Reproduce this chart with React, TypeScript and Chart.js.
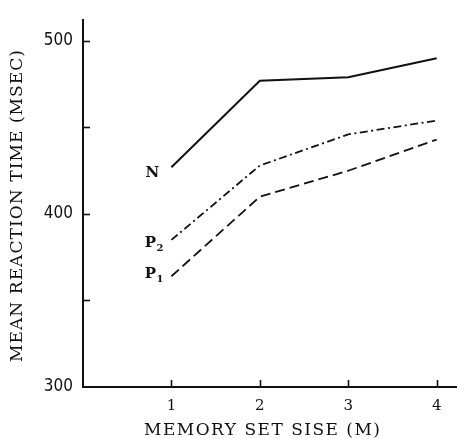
import React, { useEffect, useRef } from "react";
import { Chart, registerables } from "chart.js";

Chart.register(...registerables);

// ---- data ----
const memorySetSizes = [1, 2, 3, 4];
const seriesN = [427, 477, 479, 490];
const seriesP2 = [385, 428, 446, 454];
const seriesP1 = [364, 410, 425, 443];
const seriesNames = ["N", "P2", "P1"];
const yTickValues = [300, 350, 400, 450, 500];
const yLabeledTicks = [300, 400, 500];
const xTickValues = [1, 2, 3, 4];
const xTitle = "MEMORY SET SISE (M)";
const yTitle = "MEAN REACTION TIME (MSEC)";

const INK = "#111111";
const SERIF = "'DejaVu Serif', 'Liberation Serif', serif";
const NARROW = "'Liberation Sans Narrow', 'DejaVu Sans Condensed', 'Liberation Sans', sans-serif";

function toPoints(values: number[]) {
  return memorySetSizes.map((x, i) => ({ x, y: values[i] }));
}

function drawSpaced(ctx: CanvasRenderingContext2D, text: string, targetWidth: number) {
  (ctx as any).letterSpacing = "0px";
  const w = ctx.measureText(text).width;
  const sp = (targetWidth - w) / (text.length - 1);
  (ctx as any).letterSpacing = sp + "px";
  ctx.fillText(text, -targetWidth / 2, 0);
}

const decorPlugin = {
  id: "decor",
  afterDraw(chart: any) {
    const ctx: CanvasRenderingContext2D = chart.ctx;
    const xs = chart.scales.x;
    const ys = chart.scales.y;
    const area = chart.chartArea;
    ctx.save();
    ctx.strokeStyle = INK;
    ctx.lineWidth = 1.6;
    ctx.setLineDash([]);
    // inward tick marks
    yTickValues.forEach((v) => {
      if (v === 300) return;
      const py = Math.round(ys.getPixelForValue(v)) + 0.5;
      ctx.beginPath();
      ctx.moveTo(area.left, py);
      ctx.lineTo(area.left + 7, py);
      ctx.stroke();
    });
    xTickValues.forEach((v) => {
      const px = Math.round(xs.getPixelForValue(v)) + 0.5;
      ctx.beginPath();
      ctx.moveTo(px, area.bottom);
      ctx.lineTo(px, area.bottom - 7);
      ctx.stroke();
    });

    ctx.fillStyle = INK;
    // x title
    ctx.save();
    ctx.font = `17px ${SERIF}`;
    ctx.textBaseline = "alphabetic";
    ctx.textAlign = "left";
    ctx.translate(262, 435);
    drawSpaced(ctx, xTitle, 236);
    ctx.restore();
    // y title
    ctx.save();
    ctx.font = `17px ${SERIF}`;
    ctx.textBaseline = "alphabetic";
    ctx.textAlign = "left";
    ctx.translate(22, 206);
    ctx.rotate(-Math.PI / 2);
    drawSpaced(ctx, yTitle, 312);
    ctx.restore();

    // series labels next to first point: [dx of letter centre, baseline dy]
    const place = [
      [-19, 9.5],
      [-21, 7],
      [-21, 1.5],
    ];
    chart.data.datasets.forEach((ds: any, i: number) => {
      const p = ds.data[0];
      const px = xs.getPixelForValue(p.x) + place[i][0];
      const py = ys.getPixelForValue(p.y) + place[i][1];
      const name = seriesNames[i];
      ctx.textBaseline = "alphabetic";
      ctx.textAlign = "center";
      ctx.font = `bold 15px ${SERIF}`;
      ctx.fillText(name[0], px, py);
      if (name.length > 1) {
        ctx.font = `bold 10px ${SERIF}`;
        ctx.textAlign = "left";
        ctx.fillText(name.slice(1), px + 6, py + 4);
      }
    });
    ctx.restore();
  },
};

export default function App() {
  const ref = useRef<HTMLCanvasElement>(null);
  useEffect(() => {
    if (!ref.current) return;
    const common = {
      borderColor: INK,
      pointRadius: 0,
      fill: false,
      tension: 0,
    };
    const chart = new Chart(ref.current, {
      type: "line",
      data: {
        datasets: [
          { ...common, label: seriesNames[0], data: toPoints(seriesN), borderWidth: 2 },
          { ...common, label: seriesNames[1], data: toPoints(seriesP2), borderWidth: 1.8, borderDash: [8, 3.5, 2, 3.5] },
          { ...common, label: seriesNames[2], data: toPoints(seriesP1), borderWidth: 1.8, borderDash: [10, 5] },
        ],
      },
      options: {
        animation: false,
        responsive: false,
        events: [],
        layout: { padding: { top: 11, right: 0, left: 0, bottom: 0 } },
        plugins: { legend: { display: false }, tooltip: { enabled: false } },
        scales: {
          x: {
            type: "linear",
            min: 0,
            max: 4.23,
            afterBuildTicks: (s: any) => {
              s.ticks = xTickValues.map((v) => ({ value: v }));
            },
            afterFit: (s: any) => {
              s.height = 52;
            },
            grid: { display: false, drawTicks: false },
            border: { display: true, color: INK, width: 2 },
            ticks: {
              padding: 10,
              color: INK,
              font: { family: SERIF, size: 15 },
              maxRotation: 0,
              autoSkip: false,
            },
          },
          y: {
            type: "linear",
            min: 300,
            max: 512,
            afterBuildTicks: (s: any) => {
              s.ticks = yTickValues.map((v) => ({ value: v }));
            },
            afterFit: (s: any) => {
              s.width = 83;
            },
            grid: { display: false, drawTicks: false },
            border: { display: true, color: INK, width: 2 },
            ticks: {
              padding: 10,
              color: INK,
              autoSkip: false,
              font: { family: NARROW, size: 17 },
              callback: (v: any) => (yLabeledTicks.includes(Number(v)) ? String(v) : ""),
            },
          },
        },
      },
      plugins: [decorPlugin],
    } as any);
    return () => chart.destroy();
  }, []);
  return (
    <div style={{ position: "fixed", left: 0, top: 0, width: 457, height: 439, background: "#fff" }}>
      <canvas ref={ref} width={457} height={439} style={{ display: "block" }} />
    </div>
  );
}
